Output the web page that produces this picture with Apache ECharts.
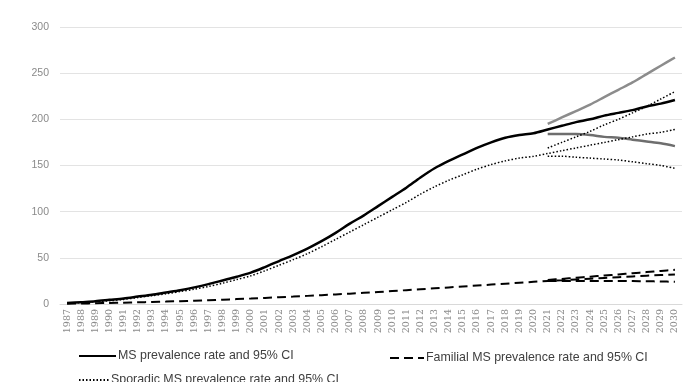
<!DOCTYPE html>
<html>
<head>
<meta charset="utf-8">
<script src="https://cdn.jsdelivr.net/npm/echarts@6/dist/echarts.min.js"></script>
<style>
  html, body { margin: 0; padding: 0; background: #fff; }
  #chart { width: 689px; height: 382px; }
</style>
</head>
<body>
<div id="chart"></div>
<script>
(function(){

    // 1987 - 2030
    var years = ['1987','1988','1989','1990','1991','1992','1993','1994','1995','1996',
        '1997','1998','1999','2000','2001','2002','2003','2004','2005','2006',
        '2007','2008','2009','2010','2011','2012','2013','2014','2015','2016',
        '2017','2018','2019','2020','2021','2022','2023','2024','2025','2026',
        '2027','2028','2029','2030']

    var msRate = [1, 2, 3, 4.5, 6, 8, 10, 12.5, 15, 18,
        21.5, 25.5, 29.5, 34, 40, 46.5, 53, 60, 68, 77,
        87, 96, 106, 116, 126, 137, 147, 155, 162, 169,
        175, 180, 183, 185, 189, 193, 197, 200, 204, 207,
        210, 214, 217, 221]

    var sporadicRate = [0.8, 1.5, 2.5, 3.5, 5, 7, 9, 11, 13.5, 16,
        19, 22.5, 26.5, 30.5, 36, 42, 48, 54.5, 62, 70,
        78, 86, 94, 102, 110, 119, 127, 134, 140, 146,
        151, 155, 158, 160, 163, 166, 169, 172, 175, 178,
        181, 184, 186, 189]

    var familialRate = [0.3, 0.5, 0.8, 1.1, 1.4, 1.8, 2.2, 2.6, 3.1, 3.6,
        4.1, 4.7, 5.3, 5.9, 6.6, 7.3, 8.0, 8.8, 9.6, 10.4,
        11.2, 12.1, 13.0, 14.0, 15.0, 16.0, 17.0, 18.0, 19.0, 20.0,
        21.0, 22.0, 23.0, 24.0, 25.0, 25.8, 26.6, 27.4, 28.2, 29.0,
        29.8, 30.6, 31.4, 32.0]

    // 95% CI, 2021 - 2030
    var msUpper = [195, 202, 209, 216, 224, 232, 240, 249, 258, 267]
    var msLower = [184, 184, 184, 183, 181, 180, 178, 176, 174, 171]
    var sporadicUpper = [169, 175, 181, 187, 194, 200, 207, 214, 222, 230]
    var sporadicLower = [160, 160, 159, 158, 157, 156, 154, 152, 150, 147]
    var familialUpper = [26, 27.2, 28.4, 29.6, 30.8, 32, 33.3, 34.6, 35.8, 37]
    var familialLower = [25, 25, 25, 25, 25, 25, 24.8, 24.6, 24.4, 24]

    var msName = 'MS prevalence rate and 95% CI',
        famName = 'Familial MS prevalence rate and 95% CI',
        spoName = 'Sporadic MS prevalence rate and 95% CI'

    var pad = function (ci) {
        var res = []
        for (var i = 0; i < years.length - ci.length; i++) res.push(null)
        return res.concat(ci)
    }

    var line = function (name, data, color, width, type) {
        return {
            name: name,
            type: 'line',
            data: data,
            symbol: 'none',
            smooth: 0.3,
            silent: true,
            animation: false,
            lineStyle: { color: color, width: width, type: type, cap: 'butt' },
            itemStyle: { color: color }
        }
    }

    var dash = [9, 5], dot = [1.5, 2]

    var legendText = {
        fontFamily: 'Liberation Sans, Arial, sans-serif',
        fontSize: 12.4,
        color: '#404040',
        padding: [0, 0, 0, -3]
    }

    // legend symbol hidden, only the line is kept
    var legendBase = { itemHeight: 10, itemStyle: { opacity: 0 }, textStyle: legendText }

    var chart = echarts.init(document.getElementById('chart'))

    chart.setOption({
        backgroundColor: '#fff',
        animation: false,
        grid: { left: 60, right: 7, top: 27, bottom: 78 },
        legend: [
            echarts.util.extend({ data: [msName], left: 73, top: 345, itemWidth: 37 }, legendBase),
            echarts.util.extend({ data: [famName], left: 384, top: 347, itemWidth: 34 }, legendBase),
            echarts.util.extend({ data: [spoName], left: 73, top: 369, itemWidth: 30 }, legendBase)
        ],
        xAxis: {
            type: 'category',
            data: years,
            boundaryGap: true,
            axisLine: { show: true, lineStyle: { color: '#d9d9d9', width: 1 } },
            axisTick: { show: false },
            axisLabel: {
                interval: 0,
                rotate: 90,
                margin: 5,
                color: '#8a8a8a',
                fontSize: 9.5,
                fontFamily: 'DejaVu Serif, serif'
            }
        },
        yAxis: {
            type: 'value',
            min: 0,
            max: 300,
            interval: 50,
            axisLine: { show: false },
            axisTick: { show: false },
            axisLabel: {
                margin: 11,
                color: '#8a8a8a',
                fontSize: 10.5,
                fontFamily: 'Liberation Sans, Arial, sans-serif'
            },
            splitLine: { lineStyle: { color: '#e3e3e3', width: 1 } }
        },
        series: [
            line(msName, msRate, '#000000', 2.5, 'solid'),
            line(msName, pad(msUpper), '#8c8c8c', 2.5, 'solid'),
            line(msName, pad(msLower), '#6e6e6e', 2.5, 'solid'),
            line(famName, familialRate, '#000000', 2, dash),
            line(famName, pad(familialUpper), '#000000', 2, dash),
            line(famName, pad(familialLower), '#000000', 2, dash),
            line(spoName, sporadicRate, '#000000', 1.5, dot),
            line(spoName, pad(sporadicUpper), '#000000', 1.5, dot),
            line(spoName, pad(sporadicLower), '#000000', 1.5, dot)
        ]
    })

})()
</script>
</body>
</html>
